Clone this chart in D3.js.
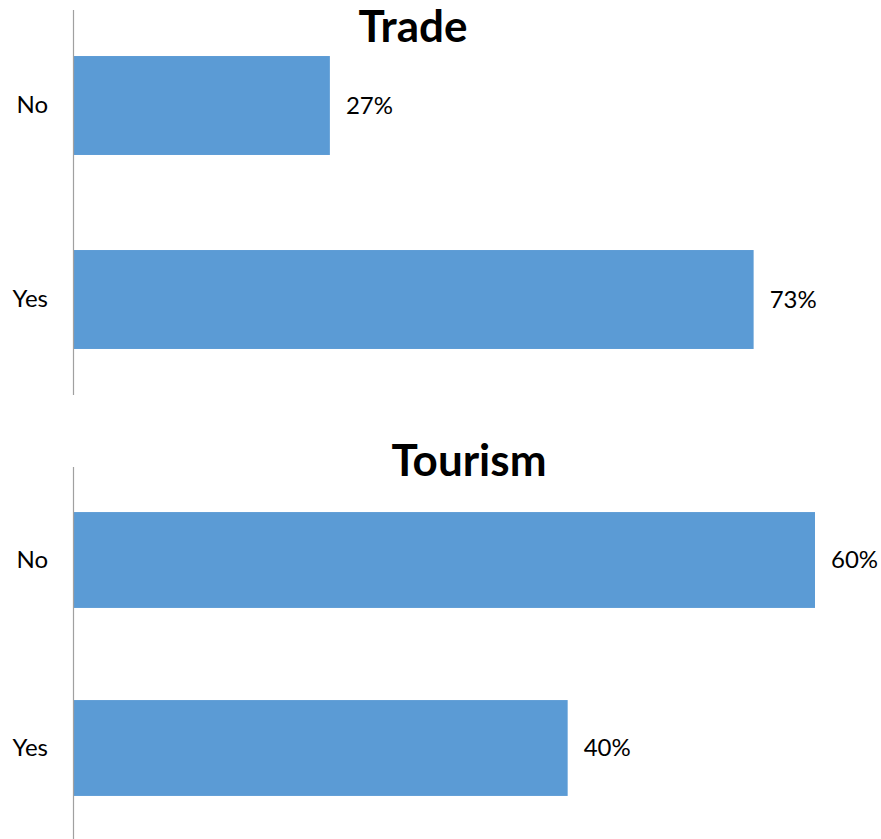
<!DOCTYPE html>
<html>
<head>
<meta charset="utf-8">
<script src="https://cdn.jsdelivr.net/npm/d3@7"></script>
<style>
  html, body { margin: 0; padding: 0; background: #fff; }
  svg { display: block; }
  text { font-family: Lato, "Open Sans", sans-serif; fill: #000; }
</style>
</head>
<body>
<svg id="chart" width="881" height="839"></svg>
<script>
// ---- data ----
const categories = ["No", "Yes"];
const tradeTitle = "Trade";
const tradeValues = [27.4, 72.6];     // percent
const tourismTitle = "Tourism";
const tourismValues = [60, 40];       // percent

const svg = d3.select("#chart");

function panel(cfg) {
  const g = svg.append("g");
  const x = d3.scaleLinear().domain([0, cfg.xmax]).range([73, cfg.xRight]);
  const y = d3.scaleBand().domain(categories).range(cfg.yRange)
    .paddingInner(0.49).paddingOuter(0.245);

  // title
  g.append("text")
    .attr("x", cfg.titleX).attr("y", cfg.titleY)
    .attr("text-anchor", "middle")
    .style("font-weight", "bold").style("font-size", "44px")
    .text(cfg.title);

  // bars
  g.selectAll("rect.bar").data(cfg.values).join("rect")
    .attr("class", "bar")
    .attr("x", x(0))
    .attr("y", (d, i) => y(categories[i]))
    .attr("width", d => x(d) - x(0))
    .attr("height", y.bandwidth())
    .attr("fill", "#5b9bd5");

  // value labels
  g.selectAll("text.val").data(cfg.values).join("text")
    .attr("class", "val")
    .attr("x", d => x(d) + 16)
    .attr("y", (d, i) => y(categories[i]) + y.bandwidth() / 2)
    .attr("dy", "0.35em")
    .style("font-size", "24px")
    .text(d => Math.round(d) + "%");

  // category axis
  const axis = g.append("g").attr("transform", `translate(${x(0)},0)`)
    .call(d3.axisLeft(y).tickSize(0).tickPadding(25));
  axis.select(".domain").attr("stroke", "#a0a0a0").attr("stroke-width", 1.2)
    .attr("d", `M0.5,${cfg.lineRange[0]}V${cfg.lineRange[1]}`);
  axis.selectAll(".tick text")
    .style("font-size", "24px").style("font-family", "Lato, 'Open Sans', sans-serif")
    .attr("fill", "#000");
}

panel({ title: tradeTitle, values: tradeValues, xmax: 80, xRight: 823,
        yRange: [8.5, 396.5], lineRange: [10, 395], titleX: 413, titleY: 42 });
panel({ title: tourismTitle, values: tourismValues, xmax: 60, xRight: 815,
        yRange: [466, 842], lineRange: [467, 839], titleX: 469, titleY: 476 });
</script>
</body>
</html>
